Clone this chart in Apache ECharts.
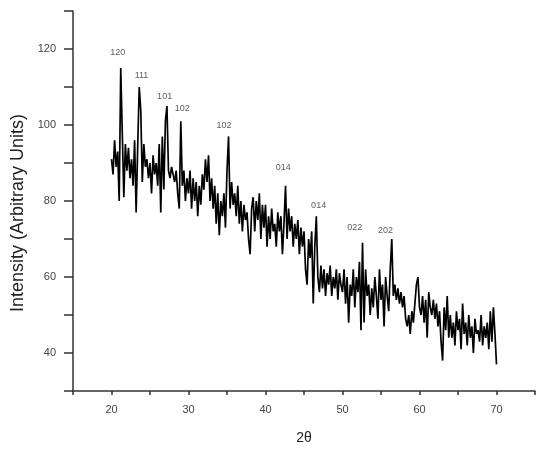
<!DOCTYPE html>
<html>
<head>
<meta charset="utf-8">
<script src="https://cdn.jsdelivr.net/npm/echarts@6/dist/echarts.min.js"></script>
<style>
  html, body { margin: 0; padding: 0; background: #fff; }
  #main { width: 538px; height: 450px; }
</style>
</head>
<body>
<div id="main"></div>
<script>
// 2θ 从 20 到 70, 步长 0.2
var startAngle = 20;
var stepAngle = 0.2;
var intensity = [
  91, 87, 96, 89, 93, 80, 115, 98, 81, 95,
  88, 94, 86, 91, 84, 96, 77, 94, 110, 104,
  85, 95, 89, 91, 86, 90, 82, 92, 87, 90,
  84, 95, 77, 97, 83, 101, 105, 88, 86, 89,
  87, 85, 88, 82, 78, 101, 84, 88, 80, 86,
  82, 88, 78, 86, 80, 85, 76, 84, 79, 87,
  83, 91, 85, 92, 80, 86, 78, 84, 74, 82,
  71, 80, 76, 82, 73, 88, 97, 78, 85, 79,
  82, 76, 84, 74, 80, 72, 79, 75, 77, 70,
  66, 78, 81, 72, 80, 75, 82, 70, 79, 73,
  79, 68, 76, 70, 78, 72, 74, 68, 77, 72,
  76, 66, 74, 84, 70, 78, 72, 76, 68, 74,
  70, 75, 66, 73, 68, 72, 62, 58, 70, 65,
  72, 53, 68, 76, 60, 56, 63, 57, 62, 55,
  61, 58, 63, 55, 60, 57, 62, 54, 61, 58,
  56, 62, 53, 60, 48, 58, 55, 62, 52, 60,
  56, 64, 46, 69, 48, 62, 55, 58, 50, 57,
  52, 60, 55, 49, 62, 54, 58, 47, 60, 55,
  51, 62, 70, 55, 58, 54, 57, 53, 56, 52,
  55, 49, 47, 50, 45, 51, 48, 53, 58, 60,
  52, 50, 55, 48, 54, 44, 56, 52, 50, 54,
  49, 53, 47, 51, 43, 38, 52, 46, 55, 44,
  50, 44, 48, 42, 51, 46, 49, 41, 53, 45,
  48, 42, 50, 44, 47, 40, 49, 45, 46, 43,
  50, 42, 47, 44, 48, 41, 51, 43, 52, 45,
  37
];

// 衍射峰标注
var peakNames = ['120', '111', '101', '102', '102', '014', '014', '022', '202'];
var peakLabelX = [20.8, 23.9, 26.9, 29.2, 34.6, 42.3, 46.9, 51.6, 55.6];
var peakLabelY = [119.0, 113.1, 107.4, 104.4, 99.8, 88.9, 78.9, 73.1, 72.2];

var xTicks = [15, 20, 25, 30, 35, 40, 45, 50, 55, 60, 65, 70, 75];
var yTicks = [30, 40, 50, 60, 70, 80, 90, 100, 110, 120, 130];

var lineData = intensity.map(function (v, i) {
  return [+(startAngle + i * stepAngle).toFixed(1), v];
});
var labelData = peakNames.map(function (n, i) {
  return { name: n, value: [peakLabelX[i], peakLabelY[i]] };
});

var myChart = echarts.init(document.getElementById('main'));
var option = {
  backgroundColor: '#fff',
  animation: false,
  grid: { left: 73, right: 0, top: 11, bottom: 58 },
  xAxis: {
    type: 'value',
    min: xTicks[0],
    max: xTicks[xTicks.length - 1],
    interval: 5,
    name: '2θ',
    nameLocation: 'middle',
    nameGap: 40,
    nameTextStyle: { fontFamily: 'Liberation Sans', fontSize: 14, color: '#222' },
    splitLine: { show: false },
    axisLine: { lineStyle: { color: '#333', width: 1.5 } },
    axisTick: { inside: false, length: 4, lineStyle: { color: '#333', width: 1.5 } },
    axisLabel: {
      margin: 13,
      fontFamily: 'Liberation Sans',
      fontSize: 11,
      color: '#444',
      formatter: function (v) { return v % 10 === 0 ? String(v) : ''; },
      showMinLabel: true,
      showMaxLabel: true
    }
  },
  yAxis: {
    type: 'value',
    min: yTicks[0],
    max: yTicks[yTicks.length - 1],
    interval: 10,
    name: 'Intensity (Arbitrary Units)',
    nameLocation: 'middle',
    nameGap: 46,
    nameTextStyle: { fontFamily: 'Liberation Sans', fontSize: 18, color: '#222', padding: [0, 24, 0, 0] },
    splitLine: { show: false },
    axisLine: { show: true, lineStyle: { color: '#333', width: 1.5 } },
    axisTick: { show: true, length: 9, lineStyle: { color: '#333', width: 1.5 } },
    axisLabel: {
      margin: 17,
      fontFamily: 'Liberation Sans',
      fontSize: 11,
      color: '#444',
      formatter: function (v) { return (v % 20 === 0 && v > 30 && v < 130) ? String(v) : ''; }
    }
  },
  series: [{
    type: 'line',
    data: lineData,
    symbol: 'none',
    lineStyle: { color: '#000', width: 1.7 }
  }, {
    type: 'scatter',
    data: labelData,
    symbolSize: 0,
    label: {
      show: true,
      position: 'inside',
      formatter: '{b}',
      fontFamily: 'Liberation Sans',
      fontSize: 9,
      color: '#333'
    }
  }]
};
if (option && typeof option === "object") {
  myChart.setOption(option, true);
}
</script>
</body>
</html>
